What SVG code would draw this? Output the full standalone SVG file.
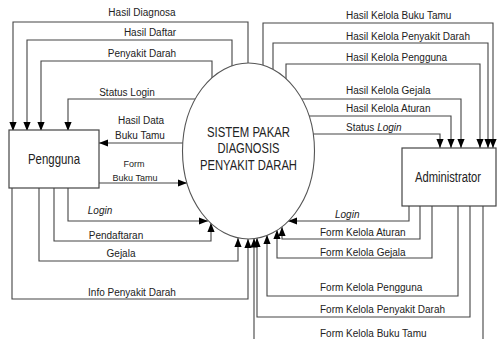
<svg xmlns="http://www.w3.org/2000/svg" width="498" height="339" viewBox="0 0 498 339">
<defs>
<style>
.c{fill:none;stroke:#444;stroke-width:1.1}
.b{fill:#fff;stroke:#444;stroke-width:1.2}
.t{font-family:"Liberation Sans",Arial,sans-serif;font-size:10px;fill:#222}
.m{text-anchor:middle}
.i{font-style:italic}
.n{font-family:"Liberation Sans",Arial,sans-serif;font-size:14px;fill:#222;text-anchor:middle}
</style>
<marker id="a" viewBox="0 0 10 8" refX="10" refY="4" markerWidth="9" markerHeight="7.5" markerUnits="userSpaceOnUse" orient="auto">
<path d="M0,0 L10,4 L0,8 z" fill="#000"/>
</marker>
</defs>
<rect width="498" height="339" fill="#fff"/>
<g id="connectors">
<path class="c" marker-end="url(#a)" d="M248,63 V22 H13 V131"/>
<path class="c" marker-end="url(#a)" d="M232,66 V40 H27 V131"/>
<path class="c" marker-end="url(#a)" d="M212,78 V61 H41 V131"/>
<path class="c" marker-end="url(#a)" d="M195,99 H68 V131"/>
<path class="c" marker-end="url(#a)" d="M183,143 H99"/>
<path class="c" marker-end="url(#a)" d="M99,183 H187"/>
<path class="c" marker-end="url(#a)" d="M68,188 V221 H208"/>
<path class="c" marker-end="url(#a)" d="M54,188 V241 H211 V223"/>
<path class="c" marker-end="url(#a)" d="M39,188 V261 H238 V238"/>
<path class="c" marker-end="url(#a)" d="M12,188 V299 H248 V239"/>
<path class="c" marker-end="url(#a)" d="M263,65 V23 H493 V148"/>
<path class="c" marker-end="url(#a)" d="M273,69 V43 H488 V148"/>
<path class="c" marker-end="url(#a)" d="M286,79 V64 H480 V148"/>
<path class="c" marker-end="url(#a)" d="M302,99 H461 V148"/>
<path class="c" marker-end="url(#a)" d="M309,116 H451 V148"/>
<path class="c" marker-end="url(#a)" d="M313,134 H440 V148"/>
<path class="c" marker-end="url(#a)" d="M409,206 V221 H288"/>
<path class="c" marker-end="url(#a)" d="M420,206 V239 H282 V227"/>
<path class="c" marker-end="url(#a)" d="M432,206 V258 H277 V230"/>
<path class="c" marker-end="url(#a)" d="M458,206 V296 H267 V235"/>
<path class="c" marker-end="url(#a)" d="M470,206 V317 H257 V238"/>
<path class="c" marker-end="url(#a)" d="M483,206 V345 H254 V238.5"/>
</g>
<g id="labels">
<text class="t m" x="142" y="15.5">Hasil Diagnosa</text>
<text class="t m" x="150" y="35.5">Hasil Daftar</text>
<text class="t m" x="142" y="56.5">Penyakit Darah</text>
<text class="t m" x="127" y="95.5">Status Login</text>
<text class="t m" x="141" y="123.5">Hasil Data</text>
<text class="t m" x="140" y="138.5">Buku Tamu</text>
<text class="t m" x="134" y="167" style="font-size:9px">Form</text>
<text class="t m" x="135" y="181" style="font-size:9px">Buku Tamu</text>
<text class="t m i" x="100" y="213.5">Login</text>
<text class="t m" x="116" y="238.5">Pendaftaran</text>
<text class="t m" x="121" y="256.5">Gejala</text>
<text class="t m" x="132" y="295.5">Info Penyakit Darah</text>
<text class="t" x="346" y="18.5">Hasil Kelola Buku Tamu</text>
<text class="t" x="346" y="39.5">Hasil Kelola Penyakit Darah</text>
<text class="t" x="346" y="61">Hasil Kelola Pengguna</text>
<text class="t" x="346" y="93.5">Hasil Kelola Gejala</text>
<text class="t" x="346" y="111.5">Hasil Kelola Aturan</text>
<text class="t" x="346" y="130.5">Status <tspan class="i">Login</tspan></text>
<text class="t i" x="335" y="217.5">Login</text>
<text class="t" x="320" y="235.5">Form Kelola Aturan</text>
<text class="t" x="320" y="255.5">Form Kelola Gejala</text>
<text class="t" x="320" y="290.5">Form Kelola Pengguna</text>
<text class="t" x="320" y="312.5">Form Kelola Penyakit Darah</text>
<text class="t" x="320" y="336.5">Form Kelola Buku Tamu</text>
</g>
<g id="sistem">
<ellipse cx="248.5" cy="151" rx="66" ry="88" fill="#fff" stroke="#555" stroke-width="1.1"/>
<text class="n" x="248.5" y="137" textLength="83" lengthAdjust="spacingAndGlyphs">SISTEM PAKAR</text>
<text class="n" x="248.5" y="153" textLength="62" lengthAdjust="spacingAndGlyphs">DIAGNOSIS</text>
<text class="n" x="248.5" y="170" textLength="97" lengthAdjust="spacingAndGlyphs">PENYAKIT DARAH</text>
</g>
<g id="pengguna">
<rect class="b" x="9" y="130" width="90" height="58"/>
<text class="n" x="54" y="164" textLength="52" lengthAdjust="spacingAndGlyphs">Pengguna</text>
</g>
<g id="administrator">
<rect class="b" x="402" y="148" width="94" height="58"/>
<text class="n" x="448" y="182" textLength="66" lengthAdjust="spacingAndGlyphs">Administrator</text>
</g>
</svg>
